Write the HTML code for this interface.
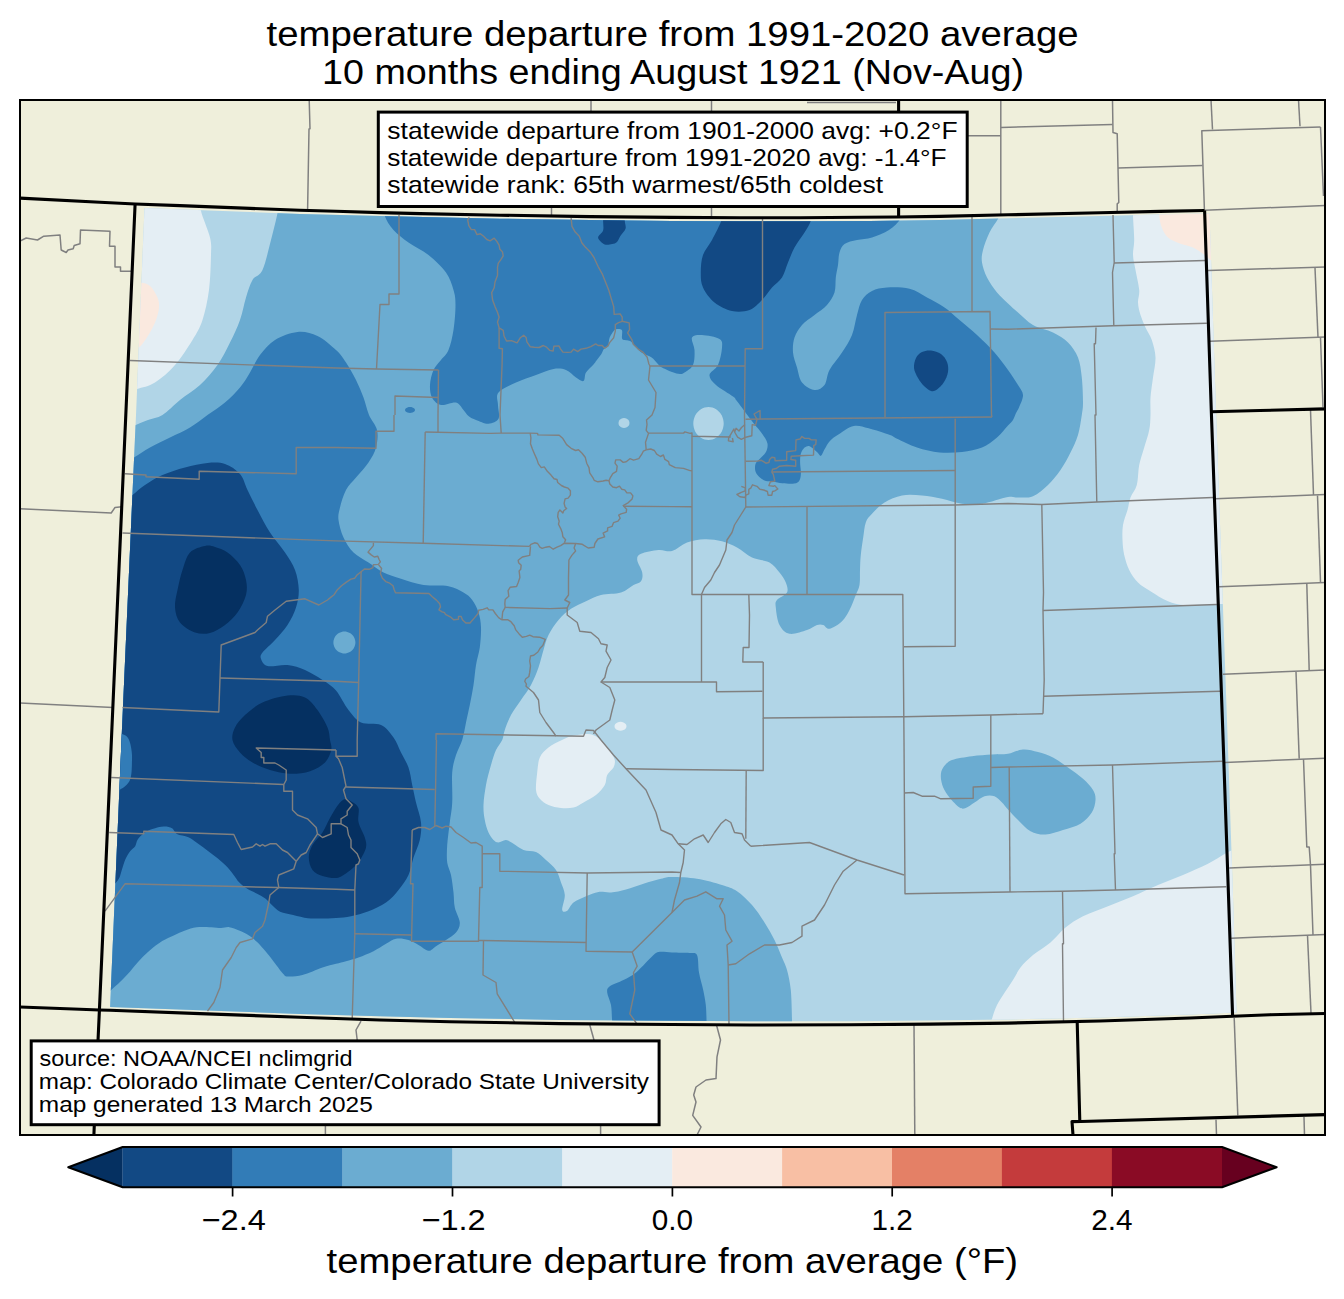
<!DOCTYPE html><html><head><meta charset="utf-8"><title>temperature departure map</title>
<style>html,body{margin:0;padding:0;background:#fff}svg{display:block}text{font-family:"Liberation Sans",sans-serif;fill:#000}</style></head><body>
<svg width="1344" height="1299" viewBox="0 0 1344 1299">
<rect width="1344" height="1299" fill="#fff"/>
<defs><clipPath id="fr"><rect x="20" y="100" width="1305" height="1035"/></clipPath>
<clipPath id="dat"><path d="M144.5,208 L300,213.9 L380,215.9 L500,218.7 L590,220.1 L672,220.9 L740,221.3 L800,221.3 L870,220.9 L940,219.9 L1008,218.2 L1100,216 L1160,214.6 L1209.5,213.5 L1216,411 L1222,580 L1227.7,740 L1232.8,890 L1236.5,1012.6 L1190,1014.6 L1100,1017.5 L1008,1019.5 L930,1020.5 L850,1021.2 L750,1021.3 L672,1020.8 L560,1019.9 L450,1018 L380,1016.2 L300,1014 L200,1010.3 L110.1,1007 L121.5,740 L136,415Z"/></clipPath></defs>
<rect x="20" y="100" width="1305" height="1035" fill="#efefdb"/>
<g clip-path="url(#fr)">
<g clip-path="url(#dat)">
<rect x="90" y="190" width="1160" height="850" fill="#b1d5e7"/>
<path d="M201,198C201,200.2 199.5,204.4 201,211C202.5,217.6 208.3,230.2 210,237.5C211.7,244.8 211.2,246.2 211,255C210.8,263.8 210.4,279.2 209,290C207.6,300.8 205.2,311.7 202.5,320C199.8,328.3 197.1,332.5 192.5,340C187.9,347.5 181.2,357.9 175,365C168.8,372.1 161.3,378.5 155,382.5C148.7,386.5 142,387.4 137,389C132,390.6 127,391.5 125,392L100,392L100,190L201,190Z" fill="#e4eef4"/>
<path d="M1133,205C1133,206.8 1132.8,210.2 1133,216C1133.2,221.8 1134.2,233.5 1134.2,240C1134.2,246.5 1132.8,250 1133,255C1133.2,260 1134.5,264.2 1135.5,270C1136.5,275.8 1138.8,284.6 1139.2,290C1139.7,295.4 1137.8,298.3 1138,302.5C1138.2,306.7 1139.2,310.8 1140.5,315C1141.8,319.2 1143.6,323.3 1145.5,327.5C1147.4,331.7 1150.1,335 1151.8,340C1153.4,345 1155.3,351.2 1155.5,357.5C1155.7,363.8 1153.8,370.8 1153,377.5C1152.2,384.2 1150.9,391.2 1150.5,397.5C1150.1,403.8 1150.7,409.6 1150.5,415C1150.3,420.4 1150.3,424.6 1149.2,430C1148.2,435.4 1145.9,441.7 1144.2,447.5C1142.6,453.3 1140.5,458.8 1139.2,465C1138,471.2 1138.2,479.6 1136.8,485C1135.3,490.4 1132,493.3 1130.5,497.5C1129,501.7 1128.8,505.4 1127.5,510C1126.2,514.6 1123.8,520 1123,525C1122.2,530 1122.3,535 1122.5,540C1122.7,545 1123.1,550 1124.2,555C1125.4,560 1127,565.4 1129.2,570C1131.5,574.6 1134.5,579 1138,582.5C1141.5,586 1145.5,588.1 1150.5,591.2C1155.5,594.4 1162.6,599 1168,601.2C1173.4,603.5 1177.7,604.4 1183,605C1188.3,605.6 1194.6,604.9 1200,604.8C1205.4,604.7 1209.7,604.4 1215.5,604.2C1221.3,604.1 1231.8,604 1235,604L1250,604L1250,195L1133,195Z" fill="#e4eef4"/>
<path d="M1238,847C1235.8,848.1 1230,851 1225,853.8C1220,856.5 1215,860.2 1208,863.8C1201,867.3 1191.3,871.5 1183,875C1174.7,878.5 1166.3,881.5 1158,885C1149.7,888.5 1141.3,892.7 1133,896.2C1124.7,899.8 1116.3,902.9 1108,906.2C1099.7,909.6 1090.1,912.7 1083,916.2C1075.9,919.8 1070.9,923.1 1065.5,927.5C1060.1,931.9 1055.9,937.9 1050.5,942.5C1045.1,947.1 1038,950.8 1033,955C1028,959.2 1023.8,963.3 1020.5,967.5C1017.2,971.7 1015.6,975.9 1013,980C1010.4,984.1 1007.7,987.8 1005,992C1002.3,996.2 999.2,1000.5 997,1005C994.8,1009.5 993.3,1014.6 992,1018.8C990.7,1022.9 989.5,1028.1 989,1030L989,1040L1250,1040L1250,847Z" fill="#e4eef4"/>
<path d="M588,734C592.2,734.2 594,735.2 597,737C600,738.8 603.7,742.4 606,745C608.3,747.6 609.5,750 611,752.5C612.5,755 614.3,757.5 614.8,760C615.2,762.5 614.8,765 613.5,767.5C612.2,770 608.7,772.1 607.2,775C605.8,777.9 606.6,781.7 604.8,785C602.9,788.3 599.5,792.1 596,795C592.5,797.9 587.2,800.4 583.5,802.5C579.8,804.6 577.2,806.6 573.5,807.5C569.8,808.4 565.2,808.4 561,808C556.8,807.6 552,806.5 548.5,805C545,803.5 541.8,801.2 539.8,798.8C537.7,796.2 536.4,794.4 536,790C535.6,785.6 536.6,777.9 537.2,772.5C537.9,767.1 537.9,761.7 539.8,757.5C541.6,753.3 544.8,750.4 548.5,747.5C552.2,744.6 558.1,741.9 562,740C565.9,738.1 567.7,737 572,736C576.3,735 583.8,733.8 588,734Z" fill="#e4eef4"/>
<path d="M626.5,726.2C626.5,727 626.2,727.9 625.7,728.5C625.2,729.1 624.4,729.8 623.5,730.1C622.6,730.5 621.5,730.8 620.5,730.8C619.5,730.8 618.4,730.5 617.5,730.1C616.6,729.8 615.8,729.1 615.3,728.5C614.8,727.9 614.5,727 614.5,726.2C614.5,725.5 614.8,724.6 615.3,724C615.8,723.4 616.6,722.7 617.5,722.4C618.4,722 619.5,721.8 620.5,721.8C621.5,721.8 622.6,722 623.5,722.4C624.4,722.7 625.2,723.4 625.7,724C626.2,724.6 626.5,725.5 626.5,726.2Z" fill="#e4eef4"/>
<path d="M132,281C133.5,281.2 138,281.7 141,282.5C144,283.3 147.2,283.5 150,286C152.8,288.5 156,293.9 157.5,297.5C159,301.1 159.2,303.8 159,307.5C158.8,311.2 157.5,315.8 156,320C154.5,324.2 152.2,328.5 150,332.5C147.8,336.5 144.4,341.2 142.5,343.8C140.6,346.2 140.8,346.1 138.8,347.5C136.7,348.9 131.5,351.2 130,352L110,352L110,281Z" fill="#fae9df"/>
<path d="M1159.2,205C1159.2,206.8 1158.8,212.2 1159.2,216C1159.7,219.8 1160.3,223.9 1161.8,227.5C1163.2,231.1 1164.9,234.8 1168,237.5C1171.1,240.2 1176.3,242.1 1180.5,243.8C1184.7,245.4 1189.2,245.8 1193,247.5C1196.8,249.2 1200.1,251.7 1203,253.8C1205.9,255.8 1207.3,257.6 1210.5,260C1213.7,262.4 1220.1,266.7 1222,268L1240,268L1240,195L1159,195Z" fill="#fae9df"/>
<path d="M125,429C126.8,428.3 131.9,426.5 135.8,425C139.6,423.5 143.5,421.7 148,420C152.5,418.3 157.2,418.3 162.5,415C167.8,411.7 173.8,405 180,400C186.2,395 193.8,390.8 200,385C206.2,379.2 212.5,372.1 217.5,365C222.5,357.9 226.2,350 230,342.5C233.8,335 237.3,327.5 240,320C242.7,312.5 243.9,304.2 246,297.5C248.1,290.8 249.8,284.6 252.5,280C255.2,275.4 259.4,276.7 262.5,270C265.6,263.3 268.5,249.5 271,240C273.5,230.5 276.2,219.7 277.5,213C278.8,206.3 278.8,202.2 279,200L279,190L1001,190L1001,205C1000.8,206.8 1001.4,211.4 999.5,216C997.6,220.6 992.2,226.8 989.5,232.5C986.8,238.2 984.2,245 983,250C981.8,255 981.3,257.9 982,262.5C982.7,267.1 984.5,272.5 987,277.5C989.5,282.5 993.5,288.2 997,292.5C1000.5,296.8 1004.5,300.2 1008,303.5C1011.5,306.8 1013.8,308.9 1018,312.5C1022.2,316.1 1027.2,321.7 1033,325C1038.8,328.3 1047.2,329.6 1053,332.5C1058.8,335.4 1063.8,338.3 1068,342.5C1072.2,346.7 1075.7,351.7 1078,357.5C1080.3,363.3 1080.9,370 1081.8,377.5C1082.6,385 1083,396.2 1083,402.5C1083,408.8 1082.6,409.6 1081.8,415C1080.9,420.4 1079.9,428.8 1078,435C1076.1,441.2 1073.4,446.7 1070.5,452.5C1067.6,458.3 1064.2,464.6 1060.5,470C1056.8,475.4 1052.6,480.6 1048,485C1043.4,489.4 1038,494.2 1033,496.2C1028,498.3 1022.2,497.4 1018,497.5C1013.8,497.6 1014,496 1008,497C1002,498 989.7,502.6 982,503.8C974.3,504.9 968.7,504.6 962,503.8C955.3,502.9 948.7,500.1 942,498.8C935.3,497.4 928.7,496 922,495.5C915.3,495 908.2,494.3 902,495.5C895.8,496.7 889.5,499.5 884.5,502.5C879.5,505.5 875.1,510.4 872,513.8C868.9,517.1 867.2,518.5 865.8,522.5C864.3,526.5 864.1,532.1 863.2,537.5C862.4,542.9 861.3,549.6 860.8,555C860.2,560.4 860.2,565 860,570C859.8,575 860.2,580.8 859.5,585C858.8,589.2 857.4,590.8 855.8,595C854.1,599.2 851.8,605.6 849.5,610C847.2,614.4 845.3,618.1 842,621.2C838.7,624.4 832.6,628.1 829.5,628.8C826.4,629.4 825.3,625.6 823.2,625C821.2,624.4 819.7,624.2 817,625C814.3,625.8 811.6,628.5 807,630C802.4,631.5 794.1,634.6 789.5,633.8C784.9,632.9 781.8,629.4 779.5,625C777.2,620.6 776.2,611.7 775.8,607.5C775.3,603.3 775.1,602.5 777,600C778.9,597.5 785.5,595.4 787,592.5C788.5,589.6 787,585.8 785.8,582.5C784.5,579.2 782.2,575.8 779.5,572.5C776.8,569.2 774.1,565 769.5,562.5C764.9,560 757.4,560 752,557.5C746.6,555 742,550.2 737,547.5C732,544.8 727.4,542.6 722,541.2C716.6,539.9 710.3,539 704.5,539.2C698.7,539.5 692.4,540.5 687,542.5C681.6,544.5 676.8,549.8 672,551C667.2,552.2 663.7,549.5 658.5,550C653.3,550.5 644.5,552.1 641,553.8C637.5,555.4 637,556.9 637.2,560C637.5,563.1 641.6,569 642.2,572.5C642.9,576 642.5,579.2 641,581.2C639.5,583.3 636.8,583.1 633.5,585C630.2,586.9 626.4,590.8 621,592.5C615.6,594.2 606.8,593.5 601,595C595.2,596.5 591,599 586,601.2C581,603.5 575.6,605.6 571,608.8C566.4,611.9 562.2,615.6 558.5,620C554.8,624.4 551,630 548.5,635C546,640 545.2,644.6 543.5,650C541.8,655.4 540.6,661.7 538.5,667.5C536.4,673.3 533.9,679.6 531,685C528.1,690.4 524.3,695 521,700C517.7,705 513.7,710 511,715C508.3,720 506.2,725.8 504.8,730C503.3,734.2 503.7,736.7 502.2,740C500.8,743.3 497.9,745.8 496,750C494.1,754.2 492.7,759.2 491,765C489.3,770.8 487.2,778.3 486,785C484.8,791.7 483.7,799.2 483.5,805C483.3,810.8 483.9,815.4 484.8,820C485.6,824.6 487,829.2 488.5,832.5C490,835.8 491.8,838.3 493.5,840C495.2,841.7 496.4,842.5 498.5,842.5C500.6,842.5 503.5,839.8 506,840C508.5,840.2 510.6,842.1 513.5,843.8C516.4,845.4 519.8,848.6 523.5,850C527.2,851.4 532.2,850.3 536,852C539.8,853.7 542.7,857 546,860C549.3,863 553.5,866.2 556,870C558.5,873.8 559.5,878.3 561,882.5C562.5,886.7 564.5,890.4 564.8,895C565,899.6 561.8,907.4 562.2,910C562.7,912.6 565.4,912 567.2,910.8C569.1,909.5 570.4,904.9 573.5,902.5C576.6,900.1 581.8,898 586,896.2C590.2,894.5 594.3,892.6 598.5,892C602.7,891.4 606.4,892.9 611,892.5C615.6,892.1 620.6,891 626,889.5C631.4,888 637.7,885.5 643.5,883.8C649.3,882 656.2,879.9 661,878.8C665.8,877.6 666,877 672,877C678,877 688.7,877.4 697,878.8C705.3,880.1 715.3,882.9 722,885C728.7,887.1 732,887.9 737,891.2C742,894.6 747.4,899.8 752,905C756.6,910.2 760.8,916.7 764.5,922.5C768.2,928.3 771.6,934.2 774.5,940C777.4,945.8 779.9,952.5 782,957.5C784.1,962.5 785.5,964.6 787,970C788.5,975.4 789.9,981.7 790.8,990C791.6,998.3 791.8,1013 792,1020C792.2,1027 792,1030 792,1032L792,1040L90,1040L90,429Z" fill="#6bacd1"/>
<path d="M940.8,776.2C940.8,772.9 941.4,770.2 943.2,767.5C945.1,764.8 947.2,761.9 952,760C956.8,758.1 965.3,757.2 972,756.2C978.7,755.3 986,754.9 992,754.5C998,754.1 1002.8,754.6 1008,753.8C1013.2,752.9 1018,749.8 1023,749.5C1028,749.2 1033,750.7 1038,752C1043,753.3 1048,754.9 1053,757.5C1058,760.1 1063,764 1068,767.5C1073,771 1078.8,775 1083,778.8C1087.2,782.5 1090.9,786.5 1093,790C1095.1,793.5 1095.7,796.2 1095.5,800C1095.3,803.8 1094.2,808.5 1091.8,812.5C1089.2,816.5 1085.3,820.8 1080.5,823.8C1075.7,826.7 1068.8,828.2 1063,830C1057.2,831.8 1050.9,834.3 1045.5,834.5C1040.1,834.7 1035.1,833.7 1030.5,831.2C1025.9,828.8 1021.8,823.6 1018,820C1014.2,816.4 1010.7,812.4 1008,809.5C1005.3,806.6 1004.2,804.7 1002,802.5C999.8,800.3 997.4,797.3 994.5,796.2C991.6,795.2 987.8,795.2 984.5,796.2C981.2,797.3 977.6,800.5 974.5,802.5C971.4,804.5 968.2,807.2 965.8,808C963.2,808.8 962.2,809.2 959.5,807.5C956.8,805.8 952.2,800.8 949.5,797.5C946.8,794.2 944.7,791 943.2,787.5C941.8,784 940.8,779.6 940.8,776.2Z" fill="#6bacd1"/>
<path d="M723.7,423.5C723.7,426.2 722.9,429.4 721.7,431.8C720.4,434.1 718.3,436.4 716.1,437.8C713.9,439.2 711,440 708.5,440C706,440 703.1,439.2 700.9,437.8C698.7,436.4 696.6,434.1 695.3,431.8C694.1,429.4 693.3,426.2 693.3,423.5C693.3,420.8 694.1,417.6 695.3,415.2C696.6,412.9 698.7,410.6 700.9,409.2C703.1,407.8 706,407 708.5,407C711,407 713.9,407.8 716.1,409.2C718.3,410.6 720.4,412.9 721.7,415.2C722.9,417.6 723.7,420.8 723.7,423.5Z" fill="#b1d5e7"/>
<path d="M629.5,423C629.5,423.8 629.2,424.8 628.8,425.5C628.3,426.2 627.5,426.9 626.8,427.3C626,427.7 624.9,428 624,428C623.1,428 622,427.7 621.2,427.3C620.5,426.9 619.7,426.2 619.2,425.5C618.8,424.8 618.5,423.8 618.5,423C618.5,422.2 618.8,421.2 619.2,420.5C619.7,419.8 620.5,419.1 621.2,418.7C622,418.3 623.1,418 624,418C624.9,418 626,418.3 626.8,418.7C627.5,419.1 628.3,419.8 628.8,420.5C629.2,421.2 629.5,422.2 629.5,423Z" fill="#b1d5e7"/>
<path d="M384.8,205C384.8,206.8 383.3,211.8 384.8,216C386.2,220.2 389.5,225.6 393.5,230C397.5,234.4 402.7,238.3 408.5,242.5C414.3,246.7 422.2,250 428.5,255C434.8,260 441.8,266.7 446,272.5C450.2,278.3 451.9,284.6 453.5,290C455.1,295.4 455.5,298.3 455.5,305C455.5,311.7 454.7,322.5 453.5,330C452.3,337.5 450.6,345 448.5,350C446.4,355 443.5,356.7 441,360C438.5,363.3 435.3,365.8 433.5,370C431.7,374.2 430.2,380.4 430,385C429.8,389.6 430.2,394.2 432,397.5C433.8,400.8 437,404.2 441,405C445,405.8 452.2,401.7 456,402.5C459.8,403.3 461.4,407.8 463.5,410C465.6,412.2 466.4,414.3 468.5,416C470.6,417.7 472.7,418.7 476,420C479.3,421.3 484.8,424 488.5,423.8C492.2,423.5 496.9,421.9 498.5,418.8C500.1,415.6 498,409.4 498,405C498,400.6 495.5,396.2 498.5,392.5C501.5,388.8 509.8,385.4 516,382.5C522.2,379.6 529.8,377.2 536,375C542.2,372.8 548.5,369.8 553.5,369C558.5,368.2 562.2,368.6 566,370C569.8,371.4 573.1,375.7 576,377.5C578.9,379.3 581.8,381.8 583.5,381C585.2,380.2 584.3,375.2 586,372.5C587.7,369.8 591.8,366.5 593.5,364.5C595.2,362.5 595.2,362.4 596.5,360.6C597.8,358.9 600.2,355.9 601.4,354C602.6,352.1 602.8,350.5 603.9,349.1C605,347.8 607,347.8 608,345.9C609,344 608.6,340.2 609.6,337.7C610.6,335.2 612.6,332.5 613.7,331.1C614.8,329.7 614.6,329.3 616,329.2C617.4,329.1 620.8,328.6 621.9,330.3C623,332 621,337.5 622.4,339.3C623.8,341.1 628,339.9 630.1,341C632.2,342.1 633.1,344 635,345.9C636.9,347.8 638.8,350.5 641.5,352.4C644.2,354.3 648.6,355.4 651.3,357.3C654,359.2 656.3,362.4 657.9,364C659.5,365.6 658.6,365.7 661,367C663.4,368.3 668.8,370.8 672,372C675.2,373.2 677.9,373.9 680,374C682.1,374.1 682.3,374 684.5,372.5C686.7,371 691.3,368.8 693,365C694.7,361.2 694.7,354.6 694.5,350C694.3,345.4 690.8,340 692,337.5C693.2,335 697.4,334.8 702,335C706.6,335.2 716.2,336.9 719.5,339C722.8,341.1 722.2,343.2 722,347.5C721.8,351.8 720.1,360.4 718,365C715.9,369.6 709.8,371.7 709.5,375C709.2,378.3 712.1,381.4 716,385C719.9,388.6 729.6,393.9 733,396.5C736.4,399.1 734.5,397.9 736.5,400.5C738.5,403.1 742.2,408 745.1,411.9C748,415.8 751.3,420.3 754,423.8C756.7,427.3 759.2,429.5 761.4,432.7C763.6,435.9 766.6,440 767.4,443.2C768.1,446.4 767.1,449.5 765.9,452.1C764.6,454.7 761.6,456.8 759.9,458.8C758.2,460.8 756.2,461.9 755.5,464C754.8,466.1 754.8,469.2 755.5,471.4C756.2,473.6 758.2,475.8 759.9,477.4C761.6,479 763.7,480.4 765.9,481.1C768.1,481.8 770.6,481.4 773.3,481.8C776,482.2 778.8,483 782.3,483.3C785.8,483.6 791.4,484.1 794.2,483.6C797.1,483.1 798.3,482.2 799.4,480.4C800.5,478.6 800.8,475.9 800.9,472.9C801,469.9 800.1,465.7 800.1,462.5C800.1,459.3 800.1,456.1 800.9,453.6C801.6,451.1 803.2,448.9 804.6,447.6C806,446.4 807.5,445.9 809,446.1C810.5,446.4 812.1,448 813.5,449.1C814.9,450.2 816.2,451.4 817.5,452.5C818.8,453.6 819.8,456.4 821,455.8C822.2,455.2 823.2,451.6 824.7,449.1C826.2,446.6 827.5,443.4 829.9,440.9C832.2,438.4 834.8,436.7 838.8,434.2C842.8,431.7 848.7,427 853.7,426C858.7,425 862.6,426.8 868.6,428.3C874.6,429.8 885.3,433.3 890,435C894.7,436.7 892.5,436.7 897,438.8C901.5,440.8 909.9,445.2 917,447.5C924.1,449.8 932,451.8 939.5,452.5C947,453.2 954.9,452.8 962,452C969.1,451.2 976.2,449.9 982,447.5C987.8,445.1 992.7,441.2 997,437.5C1001.3,433.8 1005.3,428.4 1008,425.5C1010.7,422.6 1011.7,422.1 1013,420C1014.3,417.9 1015,415.1 1016,413C1017,410.9 1017.8,410.5 1019,407.5C1020.2,404.5 1023.2,398.8 1023,395C1022.8,391.2 1020.5,389.2 1018,385C1015.5,380.8 1011.9,375.4 1008,370C1004.1,364.6 999.7,358.3 994.5,352.5C989.3,346.7 982.8,340.4 977,335C971.2,329.6 964.9,324.6 959.5,320C954.1,315.4 949.9,311.2 944.5,307.5C939.1,303.8 932.8,300.6 927,297.5C921.2,294.4 916.2,290.4 909.5,288.8C902.8,287.1 893.2,287.1 887,287.5C880.8,287.9 876.2,288.9 872,291C867.8,293.1 864.5,296 862,300C859.5,304 858.7,309.2 857,315C855.3,320.8 854.5,328.8 852,335C849.5,341.2 845.8,346.7 842,352.5C838.2,358.3 832.4,364.6 829.5,370C826.6,375.4 827,381.7 824.5,385C822,388.3 818.2,390.4 814.5,390C810.8,389.6 804.9,386.2 802,382.5C799.1,378.8 798.5,372.5 797,367.5C795.5,362.5 793.4,357.5 793,352.5C792.6,347.5 793,342.1 794.5,337.5C796,332.9 798.7,328.8 802,325C805.3,321.2 810.3,318.3 814.5,315C818.7,311.7 823.7,308.8 827,305C830.3,301.2 833,297.1 834.5,292.5C836,287.9 835.2,282.1 835.8,277.5C836.3,272.9 837.4,269.2 838,265C838.6,260.8 838.4,256 839.5,252.5C840.6,249 841.6,246.1 844.5,244C847.4,241.9 852.4,241.1 857,240C861.6,238.9 866.7,239.2 872,237.5C877.3,235.8 884.2,233.1 889,230C893.8,226.9 898,222.7 900.5,219C903,215.3 903.4,209.8 904,208L904,190L384.8,190Z" fill="#327cb7"/>
<path d="M122,463C124,462.1 129.3,460.1 134,457.5C138.7,454.9 144,450.8 150,447.5C156,444.2 163.3,440.8 170,437.5C176.7,434.2 183.8,431.2 190,427.5C196.2,423.8 201.7,419.2 207.5,415C213.3,410.8 219.6,407.1 225,402.5C230.4,397.9 235.8,392.5 240,387.5C244.2,382.5 246.7,377.9 250,372.5C253.3,367.1 255.8,360.4 260,355C264.2,349.6 268.8,343.8 275,340C281.2,336.2 290.4,332.7 297.5,332C304.6,331.3 311.1,333 317.5,336C323.9,339 331.2,345.6 336,350C340.8,354.4 342.7,357.5 346,362.5C349.3,367.5 353.1,374.2 356,380C358.9,385.8 361.3,391.7 363.5,397.5C365.7,403.3 366.8,409.6 369,415C371.2,420.4 375.8,424.6 377,430C378.2,435.4 377.4,442.1 376,447.5C374.6,452.9 371.8,457.5 368.5,462.5C365.2,467.5 359.8,472.9 356,477.5C352.2,482.1 348.7,485 346,490C343.3,495 341.2,502.5 340,507.5C338.8,512.5 337.9,515 338.5,520C339.1,525 341,532.1 343.5,537.5C346,542.9 349.3,548.3 353.5,552.5C357.7,556.7 363.5,559.2 368.5,562.5C373.5,565.8 378.1,569.8 383.5,572.5C388.9,575.2 394.3,576.7 401,578.8C407.7,580.8 415.6,583.8 423.5,585C431.4,586.2 441.8,585 448.5,586.2C455.2,587.5 459.5,590.2 463.5,592.5C467.5,594.8 469.8,596.7 472.2,600C474.8,603.3 477,607.9 478.5,612.5C480,617.1 480.8,621.7 481,627.5C481.2,633.3 480.6,641.2 479.8,647.5C478.9,653.8 477,658.8 476,665C475,671.2 474.5,678.3 473.5,685C472.5,691.7 471,698.8 469.8,705C468.5,711.2 467.2,716.7 466,722.5C464.8,728.3 463.9,734.6 462.2,740C460.6,745.4 457.7,749.6 456,755C454.3,760.4 452.9,764.6 452.2,772.5C451.6,780.4 452.7,794.2 452.2,802.5C451.8,810.8 450.6,815.4 449.8,822.5C448.9,829.6 447.7,838.3 447.2,845C446.8,851.7 446.6,857.5 447.2,862.5C447.9,867.5 450,870 451,875C452,880 452.9,887.1 453.5,892.5C454.1,897.9 453.7,902.5 454.8,907.5C455.8,912.5 459.5,918.3 459.8,922.5C460,926.7 458.3,929.6 456,932.5C453.7,935.4 449.3,937.7 446,940C442.7,942.3 438.9,944.5 436,946.2C433.1,948 431.4,951 428.5,950.8C425.6,950.5 421.8,946.8 418.5,945C415.2,943.2 412.2,941 408.5,940C404.8,939 399.8,938.1 396,938.8C392.2,939.4 389.8,941.7 386,943.8C382.2,945.8 378.1,949 373.5,951.2C368.9,953.5 363.1,955.8 358.5,957.5C353.9,959.2 349.8,960.2 346,961.2C342.2,962.3 339.9,962.7 336,963.8C332.1,964.8 328.1,965.6 322.5,967.5C316.9,969.4 308.3,973.5 302.5,975C296.7,976.5 290.7,976.7 287.5,976.5C284.3,976.3 285.1,975.8 283.3,974C281.5,972.2 278.7,968.2 276.8,965.7C274.9,963.2 273.8,961.7 271.9,959.2C270,956.8 267.8,953.9 265.3,951C262.8,948.1 259.8,944.6 257.1,942C254.4,939.4 252,937.3 249,935.4C246,933.5 242.4,931.9 239.1,930.5C235.8,929.1 232.3,927.6 229.3,927.2C226.3,926.8 224.1,928 221.1,928C218.1,928 215.4,927.3 211.3,927.2C207.2,927.1 201,926.7 196.6,927.2C192.2,927.8 188.9,929.1 185.1,930.5C181.3,931.9 177.5,933.6 173.7,935.4C169.9,937.2 166.3,938.5 162.2,941.1C158.1,943.7 153.2,947.5 149.1,951C145,954.5 141.2,958.6 137.6,962.4C134,966.2 130.9,970.6 127.8,974C124.7,977.4 121.8,980.3 119,983C116.2,985.7 114.4,986.7 111.2,990C108.1,993.3 101.9,1000.8 100,1003L90,1003L90,463Z" fill="#327cb7"/>
<path d="M613,1032C612.8,1029.8 612.3,1023.5 612,1019C611.7,1014.5 611.8,1009.4 611,1005C610.2,1000.6 607.5,995.6 607.2,992.5C607,989.4 607,988.3 609.8,986.2C612.5,984.2 619.1,982.3 623.5,980C627.9,977.7 631.4,976.2 636,972.5C640.6,968.8 647.2,960.9 651,957.5C654.8,954.1 655,952.8 658.5,952C662,951.2 666.8,952.3 672,952.5C677.2,952.7 685.3,952.6 689.5,953C693.7,953.4 695.4,951.8 697,955C698.6,958.2 698,966.7 699,972.5C700,978.3 702.1,984.6 703.2,990C704.4,995.4 705.2,1000 705.8,1005C706.3,1010 706.4,1015.5 706.5,1020C706.6,1024.5 706.5,1030 706.5,1032L706.5,1040L613,1040Z" fill="#327cb7"/>
<path d="M415,410C415,410.5 414.7,411.1 414.3,411.5C413.9,411.9 413.2,412.3 412.5,412.6C411.8,412.8 410.8,413 410,413C409.2,413 408.2,412.8 407.5,412.6C406.8,412.3 406.1,411.9 405.7,411.5C405.3,411.1 405,410.5 405,410C405,409.5 405.3,408.9 405.7,408.5C406.1,408.1 406.8,407.7 407.5,407.4C408.2,407.2 409.2,407 410,407C410.8,407 411.8,407.2 412.5,407.4C413.2,407.7 413.9,408.1 414.3,408.5C414.7,408.9 415,409.5 415,410Z" fill="#327cb7"/>
<path d="M355.4,642.4C355.4,644.2 354.8,646.3 353.9,647.9C353,649.5 351.5,651 349.9,651.9C348.3,652.8 346.2,653.4 344.4,653.4C342.6,653.4 340.5,652.8 338.9,651.9C337.3,651 335.8,649.5 334.9,647.9C334,646.3 333.4,644.2 333.4,642.4C333.4,640.6 334,638.5 334.9,636.9C335.8,635.3 337.3,633.8 338.9,632.9C340.5,632 342.6,631.4 344.4,631.4C346.2,631.4 348.3,632 349.9,632.9C351.5,633.8 353,635.3 353.9,636.9C354.8,638.5 355.4,640.6 355.4,642.4Z" fill="#6bacd1"/>
<path d="M122,503C123.8,501.7 128.7,498 132.5,495C136.3,492 140,488.3 145,485C150,481.7 155.8,477.9 162.5,475C169.2,472.1 177.5,469.5 185,467.5C192.5,465.5 200.8,463.6 207.5,463C214.2,462.4 219.6,462.2 225,464C230.4,465.8 236.2,469.7 240,474C243.8,478.3 244.6,484 247.5,490C250.4,496 253.8,502.9 257.5,510C261.2,517.1 265.4,525.4 270,532.5C274.6,539.6 280.8,546.2 285,552.5C289.2,558.8 292.7,563.8 295,570C297.3,576.2 298.6,583.8 298.8,590C298.9,596.2 297.9,601.7 296,607.5C294.1,613.3 291,619.6 287.5,625C284,630.4 279.2,635.4 275,640C270.8,644.6 264.8,649.4 262.5,652.5C260.2,655.6 260.2,656.5 261,658.8C261.8,661 263.1,665 267.5,666C271.9,667 281.2,664.3 287.5,665C293.8,665.7 299.2,667.5 305,670C310.8,672.5 317.3,676.6 322.5,680C327.7,683.4 331.7,685.5 336,690.5C340.3,695.5 344.3,704.7 348.5,710C352.7,715.3 355.6,720 361,722.5C366.4,725 375.6,722.5 381,725C386.4,727.5 390.2,732.9 393.5,737.5C396.8,742.1 398.5,747.5 401,752.5C403.5,757.5 406.6,762.1 408.5,767.5C410.4,772.9 411,779.2 412.2,785C413.5,790.8 414.5,796.2 416,802.5C417.5,808.8 420.4,816.2 421,822.5C421.6,828.8 421,834.2 419.8,840C418.5,845.8 415.4,851.7 413.5,857.5C411.6,863.3 411,869.6 408.5,875C406,880.4 402.2,885.4 398.5,890C394.8,894.6 391,899 386,902.5C381,906 374.3,909 368.5,911.2C362.7,913.5 356.4,915.1 351,916.2C345.6,917.4 341.2,917.6 336,918C330.8,918.4 324.7,918.5 320,918.5C315.3,918.5 312.4,918.8 307.9,918.2C303.4,917.6 297.8,916 293.2,914.9C288.6,913.8 283.7,913.3 280.1,911.7C276.6,910.1 274.4,907.3 271.9,905.1C269.4,902.9 267.8,900.5 265.3,898.6C262.8,896.7 260.1,895.3 257.1,893.7C254.1,892.1 250.3,890.7 247.3,888.8C244.3,886.9 241.3,884.4 239.1,882.2C236.9,880 236.1,878.2 234.2,875.7C232.3,873.2 230.4,870.4 227.7,867.5C225,864.6 221.2,861.2 217.9,858.5C214.6,855.8 211.3,853.6 208,851.1C204.7,848.6 201.5,846 198.2,843.7C194.9,841.4 191.9,838.8 188.4,837.2C184.9,835.6 179.6,835.4 176.9,833.9C174.2,832.4 174.2,829.4 172,828.2C169.8,827 167.1,826.4 163.8,826.5C160.5,826.6 155.7,827.9 152.4,829C149.1,830.1 146.6,831.3 144.2,833.1C141.8,834.9 139.2,837.4 137.7,839.6C136.2,841.8 136.4,844.3 135.2,846.2C134,848.1 131.9,848.9 130.3,851.1C128.7,853.3 126.8,856.3 125.4,859.3C124,862.3 123.1,866.1 122.1,869.1C121.1,872.1 120.7,875 119.6,877.3C118.5,879.6 117.5,880.9 115.6,883C113.7,885.1 109.3,888.8 108,890L90,890L90,503Z" fill="#124984"/>
<path d="M724,205C723.7,207.3 724,213.2 722,219C720,224.8 715.2,234 712,240C708.8,246 704.9,249.6 703,255C701.1,260.4 700.8,267.1 700.8,272.5C700.8,277.9 700.7,282.5 703,287.5C705.3,292.5 709.7,298.6 714.5,302.5C719.3,306.4 726.2,309.8 732,311C737.8,312.2 744.5,311.8 749.5,310C754.5,308.2 758.2,303.8 762,300C765.8,296.2 768.7,291.2 772,287.5C775.3,283.8 779.3,281.7 782,277.5C784.7,273.3 785.9,267.5 788,262.5C790.1,257.5 791.8,252.5 794.5,247.5C797.2,242.5 801.8,236.9 804.5,232.5C807.2,228.1 809.2,225.6 810.8,221C812.3,216.4 813.5,207.7 814,205L814,195L724,195Z" fill="#124984"/>
<path d="M603.1,210C603.1,211.8 603.1,217.7 603.1,221.1C603.1,224.5 603.9,227.7 603.1,230.5C602.3,233.3 597.8,235.5 598.1,237.8C598.4,240.1 602.4,243.4 604.7,244.4C607,245.4 610.1,244.4 612.1,244C614.1,243.6 615.6,243.2 617,241.9C618.4,240.6 618.8,238.4 620.2,236.2C621.6,234 624.7,231.3 625.5,228.8C626.3,226.3 624.9,224.2 624.8,221.1C624.7,218 624.8,211.8 624.8,210L624.8,205L603.1,205Z" fill="#124984"/>
<path d="M931,350.5C934.2,350.8 938.3,352.1 941,354C943.7,355.9 945.8,359 947,362C948.2,365 948.5,368.7 948,372C947.5,375.3 945.8,379.1 944,382C942.2,384.9 939.2,388 937,389.5C934.8,391 933.2,391.6 931,391C928.8,390.4 926.2,388.2 924,386C921.8,383.8 919.7,381 918,378C916.3,375 914.3,371.3 914,368C913.7,364.7 914.7,360.7 916,358C917.3,355.3 919.5,353.2 922,352C924.5,350.8 927.8,350.2 931,350.5Z" fill="#124984"/>
<path d="M110,733C112,733.2 119,733.2 122,734C125,734.8 126.5,735.8 128,738C129.5,740.2 130.3,743.3 131,747C131.7,750.7 132.2,754.5 132,760C131.8,765.5 132.1,775 130,780C127.9,785 123.2,787.7 119.5,790C115.8,792.3 109.9,793.3 108,794L100,794L100,733Z" fill="#327cb7"/>
<path d="M205,546C200.8,546.9 193.8,548.5 190,552.5C186.2,556.5 184.6,563.8 182.5,570C180.4,576.2 178.8,583.8 177.5,590C176.2,596.2 174.6,602.1 175,607.5C175.4,612.9 176.7,618.3 180,622.5C183.3,626.7 190,630.8 195,632.5C200,634.2 205,634.2 210,633C215,631.8 220.4,628.4 225,625C229.6,621.6 234,617.5 237.5,612.5C241,607.5 244.6,600.4 246,595C247.4,589.6 247,585 246,580C245,575 243.1,569.6 240,565C236.9,560.4 231.7,555.5 227.5,552.5C223.3,549.5 218.8,548.1 215,547C211.2,545.9 209.2,545.1 205,546Z" fill="#053061"/>
<path d="M287.5,695.5C280.4,696.3 269.6,699.2 262.5,702.5C255.4,705.8 249.6,710.8 245,715C240.4,719.2 237.1,723.3 235,727.5C232.9,731.7 231.7,735.8 232.5,740C233.3,744.2 236.7,748.8 240,752.5C243.3,756.2 247.5,759.6 252.5,762.5C257.5,765.4 263.8,768.1 270,770C276.2,771.9 283.3,773.5 290,773.8C296.7,774 304.2,773.1 310,771.2C315.8,769.4 321.5,766 325,762.5C328.5,759 330.4,753.8 331.2,750C332.1,746.2 330.6,743.8 330,740C329.4,736.2 329.6,732.5 327.5,727.5C325.4,722.5 321.2,715 317.5,710C313.8,705 310,699.9 305,697.5C300,695.1 294.6,694.7 287.5,695.5Z" fill="#053061"/>
<path d="M345,799C347.3,798.5 349.8,800.5 352,802C354.2,803.5 357.4,804.7 358.5,808C359.6,811.3 357.5,817.1 358.5,822C359.5,826.9 363.5,833.2 364.8,837.5C366,841.8 366.8,843.8 366,847.5C365.2,851.2 362.1,856.7 360,860C357.9,863.3 356.2,865 353.5,867.5C350.8,870 346.4,873.2 343.5,875C340.6,876.8 339.5,877.8 336,878C332.5,878.2 326.4,877.3 322.5,876C318.6,874.7 314.8,873.1 312.5,870C310.2,866.9 308.8,861.7 308.8,857.5C308.8,853.3 310.2,849.2 312.5,845C314.8,840.8 319.6,837 322.5,832.5C325.4,828 327.4,822.6 330,818C332.6,813.4 335.5,808.2 338,805C340.5,801.8 342.7,799.5 345,799Z" fill="#053061"/>
</g>
<g fill="none" stroke="#808080" stroke-width="1.4" stroke-linejoin="round">
<path d="M130,360.5 L336,368 L376.5,369 L438.5,370"/>
<path d="M399,215 L399,294 L389,294 L389,304.5 L380,304.5 L376.5,369"/>
<path d="M438.5,370 L438,415 L438,432"/>
<path d="M395,415 L395,396 L438,397.5"/>
<path d="M469.3,217.4 L467.7,219.8 L468.8,225.6 L471.3,229.6 L474.6,229.6 L477,234.6 L480.3,233.7 L483.6,236.2 L486.8,239.5 L490.1,240.8 L494.2,238.2 L496.7,241.1 L499.1,245.2 L499.9,249.3 L502.4,251.7 L503.2,255.8 L500.7,259.9 L498.3,263.2 L497.5,267.3 L497.5,275.5 L495,282 L494.2,287.8 L491.7,292.7 L492.6,300 L495,306.6 L497.5,312.3 L499.1,317.2 L497.5,322.1 L499.1,327.9 L503.2,330.3 L504,336 L506.5,341 L511.4,340.6 L517.1,342.9 L520.4,337.7 L523.7,335.2 L526.1,337.4 L526.9,341.8 L530.2,346.7 L534.3,347.2 L539.2,347.5 L543.3,345.5 L546.6,347.2 L549.9,350.4 L553.1,351.1 L553.9,346.2 L558.9,345.9 L560.5,348.8 L562.9,352.1 L567.9,352.4 L571.1,352.1 L573.6,349.1 L577.7,351.6 L581,349.1 L585.9,348.3 L590.8,346.7 L595.7,343.9 L598.1,345.5 L602.2,345.5 L604.7,348.3 L608,345.9 L609.6,342.6 L613.7,337.7 L615.3,331.1 L615.3,324.6 L618.6,322.6 L622.2,321.3"/>
<path d="M499.1,327.9 L499.1,348.3 L502.4,348.8 L502.1,364 L500,415 L501.2,433.1"/>
<path d="M571.1,218.2 L572,226.4 L575.2,232.1 L579.3,236.2 L581.8,242.7 L585,246.8 L590,251.7 L594,257.5 L598.1,266.5 L602.2,273.8 L605.5,282 L608.8,290.2 L611.2,298.4 L613.7,306.6 L614.2,314.4 L620.2,313.9 L622.2,317.2 L622.2,321.3 L629.2,322.9 L629.6,329.5 L627.6,332.8 L631.7,339.3 L633.3,344.2 L638.2,349.1 L643.2,352.4 L647.2,357.3 L648.9,364 L650,366 L672,366 L745,366"/>
<path d="M650,366 L648.5,380 L656,392.5 L655,407.5 L652,415 L646.5,420 L647,424.5 L646.2,430.4 L648.5,433.4 L647,437.9 L645.5,442.3 L646.2,449.8"/>
<path d="M609,480.7 L610.5,477.3 L612.8,473.6 L616.5,471.3 L617.2,466.1 L615,463.2 L615.7,459.9 L620.2,459.9 L623.2,462.4 L626.2,461.7 L629.9,458.7 L633.6,460.2 L638.8,458.7 L641.8,454.2 L643.3,451.2 L646.2,449.8"/>
<path d="M648.5,433.1 L683.5,433.1 L684.9,431.9 L690,433.4 L692,433 L692,436.2 L730.8,437"/>
<path d="M646.2,449.8 L650.7,449 L654.4,450.5 L656.7,454.2 L660.4,456.5 L663.4,455 L664.9,459.4 L668.6,461.7 L669.3,464.6 L675.3,467.6 L683.5,468.4 L690,470.6 L692,470.8"/>
<path d="M762.5,219 L762.5,348.8 L745.2,348.8 L744.5,415 L745.8,507"/>
<path d="M972,216 L972,311"/>
<path d="M885,417.5 L885,312.5 L990,311.5 L991.5,415 L992,417"/>
<path d="M990,329 L1008,329.2 L1113,325.8 L1206.8,323.2"/>
<path d="M1113,215 L1114.2,262.5 L1112.5,272.5 L1113.8,325.8"/>
<path d="M1114,263 L1205.5,260.5"/>
<path d="M1096,327.5 L1095.5,343.8 L1094.2,343.8 L1096,415 L1095,415 L1096.8,502"/>
<path d="M125,473.8 L146,475 L146,476.8 L199.2,479.2 L199.2,471.2 L296.2,473.8 L296.2,447.5 L336,447.5 L376,448.2 L376,431.2 L394,431.2 L394,415"/>
<path d="M122.5,533 L336,540.9 L423,543.3 L529.4,546.4"/>
<path d="M330,597.9 L327.5,600 L318.8,605 L305,598.8 L286.2,601.2 L275,610 L267.5,616.2 L266.2,622.5 L257.5,630 L255,632.5 L221.2,645 L218.8,712 L122.5,707.5"/>
<path d="M220,678 L336,681.2 L358.5,682.5"/>
<path d="M425.2,432 L490,433.4 L501.2,433.1 L530.2,433.1 L537.6,433.4 L537.9,434.9 L559.2,435.2 L562.9,438.6 L566.6,444.6 L571.1,448.3 L575.6,450.5 L578.5,449.8 L582.3,453.5 L585.2,457.2 L586.7,463.2 L589,467.6 L589.7,472.8 L592.7,477.3 L594.2,480.3 L597.9,481.8 L603.1,481 L606.1,480.3 L609,480.7"/>
<path d="M425.2,432 L423.2,543.3"/>
<path d="M530.2,433.1 L530.9,437.9 L530.5,443.8 L532.4,449 L534.6,454.2 L536.9,459.4 L538.4,463.9 L541.3,467.6 L544.3,466.9 L547.3,471.3 L551,475.1 L554,478.8 L557,479.5 L557.7,482.5 L561.4,485.5 L564.4,487 L568.1,488.2 L570.4,490.7 L570.4,495.1 L568.1,498.1 L565.1,498.9 L564.1,503.3 L565.1,507.1 L566.6,508.5 L563.7,510.8 L562.9,513 L559.9,510 L558.2,512.3 L557.7,516.7 L559.2,521.2 L558.5,524.2 L560.7,528.6 L562.2,532.4 L562.9,536.8 L565.6,539.8 L564.4,542.8"/>
<path d="M529.4,546.5 L530.9,544.3 L534.6,542.8 L537.6,543.5 L539.9,547.2 L542.1,548.3 L545.8,547.2 L549.5,546.5 L553.2,549.2 L557,547.2 L560.7,545.7 L564.4,543.2 L575.6,543.5 L582.3,544.3 L588.2,548 L594.2,547.2 L594.9,543.5 L597.9,539 L604.6,536.8 L603.1,533.1 L607.6,530.9 L607.6,527.9 L612,526.4 L613.5,522.7 L618,521.2 L620.2,518.2 L618.7,515.2 L621,513.8 L626.2,512.3 L626.6,509.3 L623.2,505.6 L628.4,502.6 L632.1,498.9 L632.9,495.9 L630.6,492.9 L626.9,492.9 L624.7,489.9 L621.7,489.2 L619.5,486.2 L616.5,487.7 L612.8,487 L609.8,484 L609,480.7"/>
<path d="M623.2,506.3 L672,506.6 L692,506.8"/>
<path d="M530.5,546.4 L529.7,555.4 L522.3,557 L518.2,560.3 L518.6,562.7 L521.2,565.2 L520.7,569.3 L519.1,570.9 L519.9,577.5 L518.2,582.4 L516.6,586.5 L510.1,587.3 L508.1,590.6 L508.8,596.3 L505.2,599.6 L504.8,603.7 L505.2,607.4 L550,608.6 L567.2,608"/>
<path d="M575.6,543.5 L574.1,548 L575.6,551 L571.8,555.4 L568.9,560 L568.5,577.5 L568.5,595 L564.8,600 L569.8,602.5 L567.2,608 L567.2,615 L577.2,622.5 L579.8,631.2 L591,632.5 L598.5,638.8 L601,643.8 L607.2,645 L606,651.2 L611,660 L607.2,667.5 L604.8,677.5 L601,682 L672,682 L716.5,682 L716.5,691.8 L762.5,691.2"/>
<path d="M601,682 L609.8,687.5 L614.8,700 L612.2,710 L609.8,720 L596,730 L593.5,733.8"/>
<path d="M373.4,542.8 L373.4,545.6 L368,552.1 L370.9,554.6 L374.2,557 L377.8,556.2 L379.1,559.5 L380.4,561.9 L378.3,564.4 L373.4,564.7 L372.9,567.6 L369.3,569.3 L364.4,569 L361.1,571.7 L357,575 L354.6,578.3 L351,579.1 L346.4,582.1 L341.5,585.7 L337.4,589.7 L334.1,594.7 L330,597.9"/>
<path d="M361.1,571.7 L358.6,684 L357.2,740 L357.2,756.2 L336,756.2"/>
<path d="M378.3,564.4 L381.6,568.5 L380.4,573.4 L382.4,578.3 L385.7,581.6 L389.7,583.2 L393,585.7 L394.2,589.7 L395.5,592.7 L429,593.5 L432.3,596.8 L436.4,600.1 L439.7,603.7 L440.5,606.9 L438.9,609.9 L442.1,611.8 L444.6,612.7 L445.4,614.3 L450.3,616.8 L453.6,619.7 L458.5,619.2 L458.5,616.4 L461,616.4 L462.6,620 L465.9,623 L470,623 L474,618.4 L478.1,613.5 L478.6,610.2 L483.1,609.4 L487.1,607.8 L488.8,609.9 L492.9,609.9 L495.3,613.5 L498.6,617.6 L501.6,619.7"/>
<path d="M505.2,607.4 L502.7,611.8 L501.9,619.7 L507.6,619.7 L510.9,621.7 L514.2,625.8 L515.8,629.9 L519.1,633.9 L522.3,637.2 L526.4,636.4 L529.7,635.1 L533,636.7 L539.5,637.2 L545.3,639.3 L542.8,645.4 L540.3,647.9 L537.9,652 L533.8,655.2 L530.5,656 L529.7,661 L530.5,665.9 L529.7,672.4 L528.9,676.5 L525.6,679 L524.8,681.4 L526.4,684 L526,686.2 L533.5,692.5 L538.5,700 L539.8,712.5 L546,722.5 L553.5,732.5 L556,736.2"/>
<path d="M436,740 L436,733.8 L556,735.8 L583.5,736.2 L586,730 L593.5,730.5 L601,740 L613.5,755 L626,768.8 L646,790 L656,812.5 L661,830 L672,835 L678.2,843.8"/>
<path d="M692,436.2 L692,594.5 L902.8,594.5 L904,740 L905,893.8 L1008,892 L1062.5,891.2 L1115.5,890 L1226.2,886.8"/>
<path d="M745.8,507 L954.5,505 L1008,503.5 L1041.8,504.5 L1096.8,502 L1213,497.5"/>
<path d="M807,507 L807,594.5"/>
<path d="M955.2,418.8 L955.2,646.2 L904,646.8"/>
<path d="M745.5,419.2 L992,417"/>
<path d="M772,472 L955.2,470.5"/>
<path d="M763.2,662 L763.2,718 L904,716.8 L990.8,715 L1008,714.5 L1043,713.8"/>
<path d="M990.8,715 L990.8,786.2 L973.2,787 L973.2,798.2 L940.8,798.8 L934.5,796.2 L922,796.2 L913.2,792.5 L904,793"/>
<path d="M990.8,767.5 L1008,767 L1112.5,765 L1222.5,761.2"/>
<path d="M701.5,594.5 L701.5,682"/>
<path d="M748.8,594.5 L749.5,615 L749,647.5 L743.2,647.5 L742.8,662 L763.2,662"/>
<path d="M763.2,718 L763.2,770.5 L672,769.5 L626,768.8"/>
<path d="M745.8,507 L740.8,515 L734.5,525 L732,532.5 L727,540 L725.8,550 L719.5,565 L714.5,572.5 L710.8,580 L704.5,587.5 L701.5,594.5"/>
<path d="M760.2,419 L760,410.5 L754,414 L757,419.3 L755.5,425.3 L752.2,424.6 L751.8,435.7 L745.8,437.2 L741.3,439.4 L737.6,437.2 L734.6,432 L733.9,429 L730.9,434.2 L728.7,437.9 L728.4,440.9 L733.2,441.7 L732.4,438"/>
<path d="M734.6,432 L736.1,428.3 L739,431 L741.5,427.5 L745,424.5"/>
<path d="M745.8,461.3 L757.7,461 L761.4,460.3 L765.9,463.2 L768.9,462.5 L769.6,459.5 L771.8,457.3 L774.8,457.7 L775.1,460.7 L786.7,460.3 L786.7,451.8 L795.7,450.6 L796,439.9 L800.1,439 L801.9,436.5 L804.6,438.4 L809,438.4 L811.3,439.9 L816.2,439.9 L815.7,444.6 L813.8,445.4 L813.5,455.1 L800.1,455.8 L791.2,456.3 L790.9,459.5 L795.7,460.3 L795.7,466.2 L786.7,465.5 L779.3,466.2 L776.3,468.5 L772.6,469.2 L771.8,472.2 L773.3,474.4 L774.8,481.1 L770.4,481.8 L768.9,485.6 L773.3,486.3 L774.8,485.6 L777.8,489 L774.8,490.8 L772.6,491.5 L771.8,495.2 L768.1,495.2 L767.4,491.5 L763.7,490 L759.9,489.3 L757,486.3 L752.5,484.8 L751,487.8 L748.8,489.3 L748.8,493.8 L745.8,495.2 L745.1,497.5 L739.9,496.7 L736.9,494.5 L741.3,492.3 L745.1,490.8 L745.4,487.8 L741.3,486.3"/>
<path d="M1041.8,504.5 L1043.5,592.5 L1043,610 L1044.2,680 L1043,713.8"/>
<path d="M1043,610.5 L1216.8,604.5"/>
<path d="M1043.5,696.2 L1220,691.2"/>
<path d="M111.2,777.5 L283.8,784.5"/>
<path d="M336,750 L256.2,748 L261.2,752.5 L261.2,757.5 L263.8,757.5 L263.8,763 L275,763 L278.8,765 L286.2,770 L286.2,780 L283.8,784.5 L283.8,791.2 L292.5,791.2 L292.5,810 L297.5,815 L307.5,818.8 L316.2,827.5 L317.5,833.8 L322.5,837.5 L331.2,833.8 L331.2,823.8 L341,823.8"/>
<path d="M317.5,833.8 L310,845 L306.2,852.5 L301.2,855 L296.2,861.2"/>
<path d="M109.2,832.5 L143.8,833.8 L143.8,831.2 L233.8,834.5 L237.5,842.5 L241.2,849.5 L252.5,847 L256.2,843.8 L260,846.2 L262.5,844.5 L265,846.2 L270,843.8 L276.2,843.8 L282.5,850 L287.5,852.5 L296.2,861.2 L293.8,868.8 L278.8,875 L277.5,880 L278.8,887.5 L270,895 L268.8,902.5 L265,920 L262.5,926.2 L255,932.5 L252.5,938.8 L240,942.5 L236.2,947.5 L231.2,957.5 L222.5,970 L220,987.5 L213.8,1002.5 L207.5,1011.2"/>
<path d="M105,911.2 L125,883.8 L277.5,887.5 L336,889.2 L354.8,890"/>
<path d="M336,750 L336,756.2 L338.5,758.8 L342.2,767.5 L346,786.2 L343.5,790 L346,798.8 L352.2,805 L347.2,811.2 L347.2,815 L341,818.8 L341,823.8 L347.2,827.5 L348.5,835 L351,840 L351,847.5 L357.2,853.8 L359.8,860 L358.5,863.8 L356,865 L354.8,890 L354.8,933.8 L352.2,1019"/>
<path d="M346,787 L434.8,789.5"/>
<path d="M436.5,740 L434.8,826.2"/>
<path d="M354.8,933.8 L411,935"/>
<path d="M412.2,830 L418.5,827.5 L424.8,827.5 L429.8,829.5 L436,825.5 L442.2,828 L446,826.2 L451,827 L456,832.5 L463.5,837.5 L471,843 L476,842.5 L482.2,846.2 L482.2,853.8 L482.2,887.5 L479.8,887.5 L478.5,941.2 L411.5,941.2 L413,883.8 L410.5,883.8 L412.2,830"/>
<path d="M482.2,853.8 L499.8,853.8 L499.8,871.2 L587.2,873 L672,872 L680.8,872.5"/>
<path d="M587.2,873 L586,951.2 L632.2,952 L672,912.5 L684.5,900 L697,896.2 L705.8,891.8 L717,898.8 L723.2,898.8 L719.5,906.2 L724.5,915 L725.8,930 L732,941.2 L727,945 L728.2,965 L729,1025"/>
<path d="M478.5,940.5 L483.5,940.5 L586,942.5"/>
<path d="M632.2,952 L637.2,966.2 L633.5,972.5 L634.8,990 L632.2,1002.5 L629.8,1013.8 L637,1024"/>
<path d="M483.5,940.5 L483,975 L496,982.5 L497.2,993.8 L514.8,1022.5"/>
<path d="M746.2,770.5 L745.8,838.8"/>
<path d="M750.8,846.2 L809.5,842.5 L857,860 L904,875"/>
<path d="M678.2,843.8 L687,844.5 L694.5,838.8 L703.2,835 L708.2,842.5 L714.5,832.5 L720.8,823.8 L725.8,819.5 L730.8,822.5 L734.5,832.5 L742,833.8 L744.5,840 L750.8,846.2"/>
<path d="M678.2,843.8 L684.5,850 L683.2,862.5 L680.8,872.5 L679.5,882.5 L674.5,900 L672,912.5"/>
<path d="M728.2,965 L735.8,963.8 L749.5,953.8 L764.5,945 L779.5,945 L792,942.5 L802,936.2 L802,926.2 L814.5,920 L824.5,905 L834.5,885 L843.2,871.2 L857,860"/>
<path d="M1112.5,765 L1115,853.8 L1114.2,853.8 L1115.5,890"/>
<path d="M1009.2,767 L1010,892"/>
<path d="M1062.5,891.2 L1063.5,943.8 L1062.5,943.8 L1063.5,1021.5"/>
</g>
<g fill="none" stroke="#808080" stroke-width="1.5" stroke-linejoin="round">
<path d="M309.2,100 L310,128.8 L309,129 L307.6,210"/>
<path d="M591,100 L591,112"/>
<path d="M551.5,206 L551.5,215"/>
<path d="M711.5,100 L711.5,112"/>
<path d="M711.5,206 L711.5,217"/>
<path d="M807,102.5 L896,102.5"/>
<path d="M1000.8,100 L1000.8,215"/>
<path d="M968,135.8 L1000.8,135.8"/>
<path d="M1000.8,127.5 L1112.5,124.5"/>
<path d="M1112.5,100 L1113,132.5 L1117.2,133.8 L1118.8,202.5 L1117.2,203.8 L1117.2,212"/>
<path d="M1118,168 L1202.5,165.5"/>
<path d="M1211,100 L1212.5,129.5"/>
<path d="M1320.5,127 L1201.8,130.8 L1204.4,209.5"/>
<path d="M1298.5,100 L1300,126.2"/>
<path d="M1320.5,127 L1323.5,196"/>
<path d="M1204.6,210.2 L1325,205.5"/>
<path d="M1208,270.5 L1325,267"/>
<path d="M1315,268 L1318,337.5"/>
<path d="M1210,341.2 L1325,337"/>
<path d="M1320.5,337.5 L1323,407"/>
<path d="M1310.5,410 L1313.5,495"/>
<path d="M1215.5,498.8 L1325,494.5"/>
<path d="M1317.5,495.5 L1320.5,582"/>
<path d="M1219.2,586.8 L1325,582.5"/>
<path d="M1306.8,583.8 L1309.2,670.5"/>
<path d="M1223,674.2 L1325,670"/>
<path d="M1296,672 L1299.2,758.8"/>
<path d="M1225,762.5 L1325,758.2"/>
<path d="M1303.5,759 L1306.8,847 L1309.2,847 L1310.5,865 L1313,935"/>
<path d="M1229.2,868 L1325,864.2"/>
<path d="M1231.2,938.2 L1325,934.5"/>
<path d="M1307.5,935.5 L1311,1013"/>
<path d="M1234.2,1018 L1237.8,1115.4"/>
<path d="M1216,1119.8 L1216.5,1135"/>
<path d="M1304,1117 L1304.5,1135"/>
<path d="M914,1024 L914.8,1135"/>
<path d="M716.5,1025 L720.5,1040 L717,1056.8 L716,1078.6 L706,1080 L696,1087 L693.7,1095 L696,1102 L692.7,1115.4 L701,1127 L697,1135"/>
<path d="M589.8,1025 L594,1040"/>
<path d="M600.6,1125 L600.6,1135"/>
<path d="M361,1021.2 L356,1030 L357.2,1040"/>
<path d="M325.4,1125 L325.4,1135"/>
<path d="M20,241.2 L26.2,238 L37.5,240 L43.8,236.2 L60,235 L61.2,250 L66.2,252.5 L68,250 L73.2,248.8 L74.2,245.5 L80,243.8 L80.5,230 L110,231.2 L109.5,246.2 L115,246.2 L115,267 L120.5,267 L120.5,271.2 L132,271.2"/>
<path d="M20,508.8 L111.2,513 L115,507.5 L121.8,506.8"/>
<path d="M20,703 L113,707.4"/>
</g>
<g fill="none" stroke="#000" stroke-width="3.1" stroke-linejoin="round">
<path d="M20,198.1 L100,202.2 L135.1,204 L180,205.6 L250,208.4 L300,210.2 L336,211.3 L380,212.6 L420,213.6 L500,215.2 L590,216.6 L672,217.4 L740,217.8 L800,217.8 L860,217.3 L897,217 L940,216.4 L1008,214.8 L1100,212.8 L1160,211.4 L1204.6,210.5"/>
<path d="M135.1,204 L125.8,415 L111.4,740 L99.4,1010.4 L98.1,1038.8 L94.3,1125 L93.9,1135"/>
<path d="M20,1007 L80,1009.2 L99.4,1010 L110,1010.3 L200,1013.6 L300,1017.3 L336,1018.5 L380,1020 L450,1021.7 L560,1023.6 L672,1024.5 L750,1025 L850,1024.8 L930,1024.1 L1008,1023.1 L1100,1021 L1190,1018 L1232.6,1016.3 L1270,1014.7 L1325,1013.5"/>
<path d="M1204.6,210.5 L1211.3,411 L1217.4,580 L1223.1,740 L1228.3,890 L1232.6,1016.3"/>
<path d="M898.6,100 L898.6,217"/>
<path d="M1211.3,411.7 L1260,410.5 L1325,408.9"/>
<path d="M1077.2,1022 L1079.8,1121.2 L1072,1121.5 L1073,1135"/>
<path d="M1072,1121.8 L1325,1114.6"/>
</g>
</g>
<rect x="20" y="100" width="1305" height="1035" fill="none" stroke="#000" stroke-width="2"/>
<rect x="378.3" y="112.1" width="588.9" height="94.4" fill="#fff" stroke="#000" stroke-width="3"/>
<rect x="31.2" y="1040.9" width="627.9" height="83.8" fill="#fff" stroke="#000" stroke-width="3"/>
<text x="266.6" y="46" font-size="35.2" text-anchor="start" textLength="812" lengthAdjust="spacingAndGlyphs">temperature departure from 1991-2020 average</text>
<text x="322" y="84.2" font-size="35.2" text-anchor="start" textLength="702" lengthAdjust="spacingAndGlyphs">10 months ending August 1921 (Nov-Aug)</text>
<text x="387.3" y="138.8" font-size="24.2" text-anchor="start" textLength="570.3" lengthAdjust="spacingAndGlyphs">statewide departure from 1901-2000 avg: +0.2°F</text>
<text x="387.3" y="165.8" font-size="24.2" text-anchor="start" textLength="559.3" lengthAdjust="spacingAndGlyphs">statewide departure from 1991-2020 avg: -1.4°F</text>
<text x="387.3" y="193" font-size="24.2" text-anchor="start" textLength="495.8" lengthAdjust="spacingAndGlyphs">statewide rank: 65th warmest/65th coldest</text>
<text x="39.5" y="1066.2" font-size="22.1" text-anchor="start" textLength="313" lengthAdjust="spacingAndGlyphs">source: NOAA/NCEI nclimgrid</text>
<text x="38.8" y="1089" font-size="22.1" text-anchor="start" textLength="610" lengthAdjust="spacingAndGlyphs">map: Colorado Climate Center/Colorado State University</text>
<text x="38.8" y="1112" font-size="22.1" text-anchor="start" textLength="334" lengthAdjust="spacingAndGlyphs">map generated 13 March 2025</text>
<text x="233.7" y="1230.2" font-size="29.5" text-anchor="middle" textLength="64.2" lengthAdjust="spacingAndGlyphs">−2.4</text>
<text x="453.5" y="1230.2" font-size="29.5" text-anchor="middle" textLength="64.2" lengthAdjust="spacingAndGlyphs">−1.2</text>
<text x="672.4" y="1230.2" font-size="29.5" text-anchor="middle" textLength="41.3" lengthAdjust="spacingAndGlyphs">0.0</text>
<text x="892.2" y="1230.2" font-size="29.5" text-anchor="middle" textLength="41.3" lengthAdjust="spacingAndGlyphs">1.2</text>
<text x="1112" y="1230.2" font-size="29.5" text-anchor="middle" textLength="41.3" lengthAdjust="spacingAndGlyphs">2.4</text>
<text x="326.6" y="1273" font-size="35.2" text-anchor="start" textLength="691.5" lengthAdjust="spacingAndGlyphs">temperature departure from average (°F)</text>
<path d="M122.7,1147 L68.3,1167.2 L122.7,1187.3 Z" fill="#053061"/>
<rect x="122.5" y="1147" width="110.3" height="40.3" fill="#124984"/>
<rect x="232.4" y="1147" width="110.3" height="40.3" fill="#327cb7"/>
<rect x="342.4" y="1147" width="110.3" height="40.3" fill="#6bacd1"/>
<rect x="452.3" y="1147" width="110.3" height="40.3" fill="#b1d5e7"/>
<rect x="562.2" y="1147" width="110.3" height="40.3" fill="#e4eef4"/>
<rect x="672.2" y="1147" width="110.3" height="40.3" fill="#fae9df"/>
<rect x="782.1" y="1147" width="110.3" height="40.3" fill="#f8bfa4"/>
<rect x="892" y="1147" width="110.3" height="40.3" fill="#e48066"/>
<rect x="1001.9" y="1147" width="110.3" height="40.3" fill="#c43b3c"/>
<rect x="1111.9" y="1147" width="110.3" height="40.3" fill="#8a0b25"/>
<path d="M1222,1147 L1276.6,1167.2 L1222,1187.3 Z" fill="#67001f"/>
<path d="M122.7,1147 L1222,1147 L1276.6,1167.2 L1222,1187.3 L122.7,1187.3 L68.3,1167.2 Z" fill="none" stroke="#000" stroke-width="2.1" stroke-linejoin="round"/>
<path d="M232.6,1187.3 V1196.5" stroke="#000" stroke-width="1.7"/>
<path d="M452.5,1187.3 V1196.5" stroke="#000" stroke-width="1.7"/>
<path d="M672.4,1187.3 V1196.5" stroke="#000" stroke-width="1.7"/>
<path d="M892.2,1187.3 V1196.5" stroke="#000" stroke-width="1.7"/>
<path d="M1112.1,1187.3 V1196.5" stroke="#000" stroke-width="1.7"/>
</svg></body></html>
